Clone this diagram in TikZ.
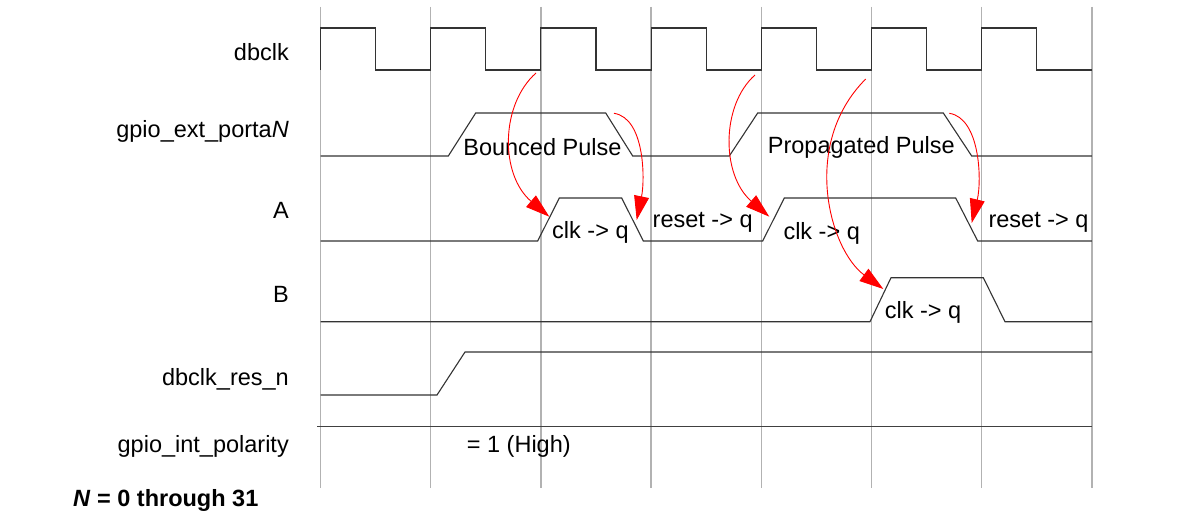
\documentclass[tikz,border=0pt]{standalone}
\usepackage{fontspec}
\setmainfont{Liberation Sans}
\usetikzlibrary{arrows.meta}
\begin{document}
\begin{tikzpicture}[x=1pt,y=-1pt,
  gridline/.style={draw=black!30, line width=1.3pt},
  sig/.style={draw=black!80, line width=1.1pt, line join=miter},
  polline/.style={draw=black!75, line width=1.5pt},
  lbl/.style={anchor=base east, inner sep=0pt, font=\fontsize{23.5}{28}\selectfont},
  wtxt/.style={anchor=base, inner sep=0pt, font=\fontsize{23.5}{28}\selectfont},
  redarr/.style={draw=red, line width=0.9pt, -{Triangle[length=24pt,width=15pt]}}]
\useasboundingbox (0,0) rectangle (1204,527);
\fill[white] (0,0) rectangle (1204,527);

% grid
\foreach \i in {0,...,7}
  \draw[gridline] ({320.5+110.2*\i},7) -- ({320.5+110.2*\i},488);

% dbclk
\draw[sig] (320.5,70) \foreach \i in {0,...,6} {
  -- ({320.5+110.2*\i},28) -- ({375.6+110.2*\i},28)
  -- ({375.6+110.2*\i},70) -- ({430.7+110.2*\i},70)};

% gpio_ext_portaN
\draw[sig] (320.5,156) -- (448.3,156) -- (475.7,113) -- (605.7,113) -- (632.7,156)
  -- (729.3,156) -- (757.7,113) -- (943.3,113) -- (971.7,156) -- (1091.9,156);

% A
\draw[sig] (320.5,241) -- (537.7,241) -- (559.3,198) -- (621.7,198) -- (643.3,241)
  -- (762.7,241) -- (784.3,198) -- (955.7,198) -- (977.7,241) -- (1091.9,241);

% B
\draw[sig] (320.5,321.7) -- (870,321.7) -- (891,277.7) -- (983.3,277.7) -- (1005,321.7) -- (1091.9,321.7);

% dbclk_res_n
\draw[sig] (320.5,395) -- (437,395) -- (465,352) -- (1091.9,352);

% gpio_int_polarity
\draw[polline] (317,426.5) -- (1091.9,426.5);

% labels
\node[lbl] (ldbclk) at (289,61) {dbclk};
\node[lbl] (lport) at (289,137) {gpio\_ext\_porta\textit{N}};
\node[lbl] (lA) at (289,218) {A};
\node[lbl] (lB) at (289,302) {B};
\node[lbl] (lres) at (289,385) {dbclk\_res\_n};
\node[lbl] (lpol) at (289,452.5) {gpio\_int\_polarity};
\node[anchor=base west, inner sep=0pt, font=\fontsize{23.5}{28}\selectfont\bfseries] (lN) at (73,506.5) {\textit{N} = 0 through 31};

% waveform texts
\node[wtxt] (tbounce) at (542.4,155) {Bounced Pulse};
\node[wtxt] (tprop) at (861.3,153.5) {Propagated Pulse};
\node[wtxt] (tclk1) at (590.4,238.5) {clk -> q};
\node[wtxt] (trst1) at (702.7,227) {reset -> q};
\node[wtxt] (tclk2) at (821.7,239) {clk -> q};
\node[wtxt] (trst2) at (1038.5,227.3) {reset -> q};
\node[wtxt] (tclk3) at (923,318.5) {clk -> q};
\node[wtxt] (thigh) at (518.8,452) {= 1 (High)};

% red arrows
\coordinate (a1s) at (536,73);     \coordinate (a1e) at (549.3,216.7);
\coordinate (a2s) at (614,113.3);  \coordinate (a2e) at (636.7,220);
\coordinate (a3s) at (755,75);     \coordinate (a3e) at (769.3,216.7);
\coordinate (a4s) at (865.7,79);   \coordinate (a4e) at (883.3,289);
\coordinate (a5s) at (949.3,113.3);\coordinate (a5e) at (971.7,223);
\draw[redarr] (a1s) .. controls (500,105) and (500,175) .. (a1e);
\draw[redarr] (a2s) .. controls (645,118) and (645,180) .. (a2e);
\draw[redarr] (a3s) .. controls (721,105) and (721,175) .. (a3e);
\draw[redarr] (a4s) .. controls (800,145) and (830,250) .. (a4e);
\draw[redarr] (a5s) .. controls (980,118) and (982,180) .. (a5e);
\end{tikzpicture}
\end{document}
